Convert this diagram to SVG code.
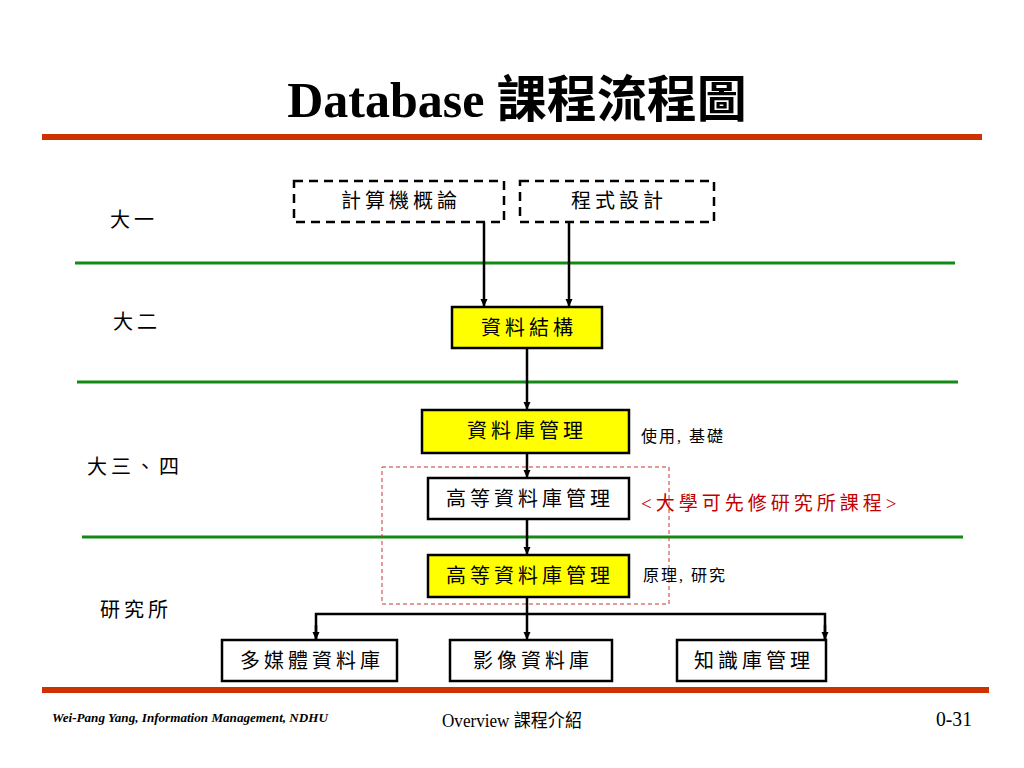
<svg xmlns="http://www.w3.org/2000/svg" width="1024" height="768" viewBox="0 0 1024 768">
<defs>
<marker id="arr" markerWidth="8" markerHeight="8" refX="7" refY="4" orient="auto" markerUnits="userSpaceOnUse">
<path d="M0,0.5 L8,4 L0,7.5 Z" fill="#000"/>
</marker>
<style>
.box{stroke:#000;stroke-width:2.5}
.yellow{fill:#ffff00}
.white{fill:#ffffff}
.dash{fill:#ffffff;stroke:#000;stroke-width:2.5;stroke-dasharray:9 6}
.t{font-family:"Liberation Serif","Noto Sans CJK TC",serif;font-size:20px;letter-spacing:4px;text-anchor:middle;dominant-baseline:central;fill:#000}
.lbl{font-family:"Liberation Serif","Noto Sans CJK TC",serif;font-size:20px;letter-spacing:4px;dominant-baseline:central;fill:#000}
.note{font-family:"Liberation Serif","Noto Sans CJK TC",serif;font-size:16px;letter-spacing:2px;dominant-baseline:central;fill:#000}
.green{stroke:#138a13;stroke-width:3}
.red{stroke:#cc3300;stroke-width:6}
.conn{stroke:#000;stroke-width:2.5;fill:none}
</style>
</defs>
<rect width="1024" height="768" fill="#ffffff"/>
<text x="517" y="117" text-anchor="middle" font-family="Liberation Serif,'Noto Sans CJK TC',serif" font-size="50" font-weight="bold">Database 課程流程圖</text>
<line class="red" x1="42" y1="137" x2="982" y2="137"/>
<line class="red" x1="42" y1="690" x2="989" y2="690"/>
<g id="levels">
<line class="green" x1="75" y1="263" x2="955" y2="263"/>
<line class="green" x1="77" y1="382" x2="958" y2="382"/>
<line class="green" x1="82" y1="537" x2="963" y2="537"/>
<text class="lbl" x="110" y="220">大一</text>
<text class="lbl" x="113" y="322">大二</text>
<text class="lbl" x="87" y="467">大三、四</text>
<text class="lbl" x="100" y="610">研究所</text>
</g>
<rect x="382" y="467" width="287" height="137" fill="none" stroke="#cc3333" stroke-width="1" stroke-dasharray="4 3"/>
<g id="connectors">
<line class="conn" x1="484" y1="222" x2="484" y2="306" marker-end="url(#arr)"/>
<line class="conn" x1="569" y1="222" x2="569" y2="306" marker-end="url(#arr)"/>
<line class="conn" x1="527" y1="348" x2="527" y2="409" marker-end="url(#arr)"/>
<line class="conn" x1="527" y1="453" x2="527" y2="477" marker-end="url(#arr)"/>
<line class="conn" x1="527" y1="519" x2="527" y2="554" marker-end="url(#arr)"/>
<line class="conn" x1="527" y1="597" x2="527" y2="639" marker-end="url(#arr)"/>
<polyline class="conn" points="316,639 316,614 825,614 825,639"/>
<line class="conn" x1="316" y1="625" x2="316" y2="639" marker-end="url(#arr)"/>
<line class="conn" x1="825" y1="625" x2="825" y2="639" marker-end="url(#arr)"/>
</g>
<g id="n1"><rect class="dash" x="294" y="181" width="210" height="41"/><text class="t" x="401" y="201">計算機概論</text></g>
<g id="n2"><rect class="dash" x="520" y="181" width="194" height="41"/><text class="t" x="619" y="201">程式設計</text></g>
<g id="n3"><rect class="box yellow" x="452" y="307" width="150" height="41"/><text class="t" x="529" y="328">資料結構</text></g>
<g id="n4"><rect class="box yellow" x="422" y="410" width="207" height="43"/><text class="t" x="527" y="431">資料庫管理</text></g>
<text class="note" x="641" y="436">使用, 基礎</text>
<g id="n5"><rect class="box white" x="428" y="478" width="201" height="41"/><text class="t" x="530" y="499">高等資料庫管理</text></g>
<text class="note" x="641" y="503" style="fill:#c00000;font-size:19px;letter-spacing:4px">&lt;大學可先修研究所課程&gt;</text>
<g id="n6"><rect class="box yellow" x="428" y="555" width="201" height="42"/><text class="t" x="530" y="576">高等資料庫管理</text></g>
<text class="note" x="643" y="575">原理, 研究</text>
<g id="n7"><rect class="box white" x="222" y="640" width="175" height="41"/><text class="t" x="312" y="661">多媒體資料庫</text></g>
<g id="n8"><rect class="box white" x="450" y="640" width="162" height="41"/><text class="t" x="533" y="661">影像資料庫</text></g>
<g id="n9"><rect class="box white" x="677" y="640" width="149" height="41"/><text class="t" x="754" y="661">知識庫管理</text></g>
<text x="52" y="722" font-family="Liberation Serif,serif" font-size="13" font-style="italic" font-weight="bold" textLength="276" lengthAdjust="spacingAndGlyphs">Wei-Pang Yang, Information Management, NDHU</text>
<text x="442" y="727" font-family="Liberation Serif,'Noto Sans CJK TC',serif" font-size="18" textLength="140" lengthAdjust="spacingAndGlyphs">Overview 課程介紹</text>
<text x="972" y="726" text-anchor="end" font-family="Liberation Serif,serif" font-size="21" textLength="36" lengthAdjust="spacingAndGlyphs">0-31</text>
</svg>
